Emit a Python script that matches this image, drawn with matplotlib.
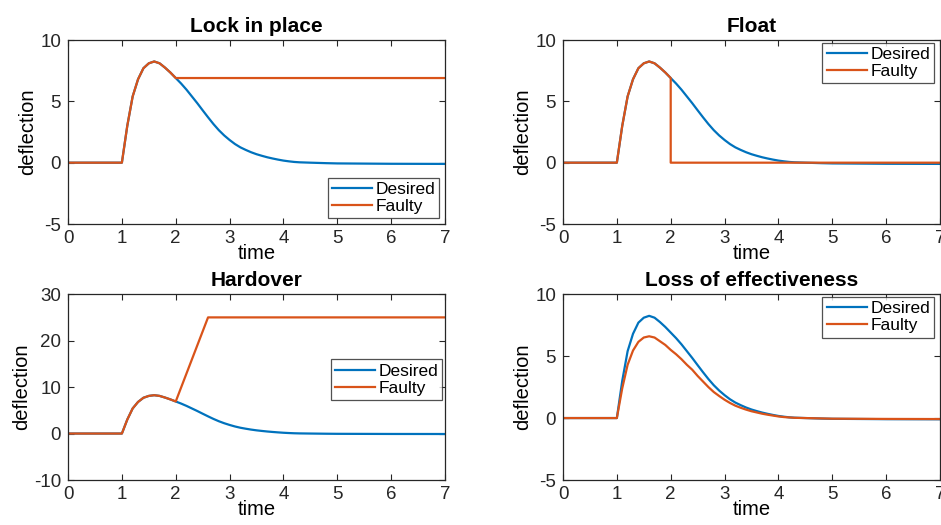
import numpy as np
import matplotlib.pyplot as plt

plt.rcParams['font.family'] = ['Liberation Sans', 'DejaVu Sans']
plt.rcParams['axes.unicode_minus'] = False

# desired actuator deflection
t = [0.0, 1.0, 1.1, 1.2, 1.3, 1.4, 1.5, 1.6, 1.7, 1.8, 1.9, 2.0,
     2.1, 2.2, 2.3, 2.4, 2.5, 2.6, 2.7, 2.8, 2.9, 3.0,
     3.1, 3.2, 3.3, 3.4, 3.5, 3.6, 3.7, 3.8, 3.9, 4.0,
     4.1, 4.2, 4.3, 4.5, 4.8, 5.0, 6.0, 7.0]
desired = [0.0, 0.0, 3.0, 5.4, 6.8, 7.7, 8.1, 8.25, 8.1, 7.75, 7.35, 6.9,
           6.45, 5.95, 5.4, 4.85, 4.27, 3.7, 3.15, 2.65, 2.22, 1.85,
           1.52, 1.25, 1.04, 0.85, 0.69, 0.56, 0.44, 0.34, 0.25, 0.17,
           0.11, 0.06, 0.03, 0.0, -0.04, -0.06, -0.09, -0.1]

# faulty signals
lock_t = [0.0, 1.0, 1.1, 1.2, 1.3, 1.4, 1.5, 1.6, 1.7, 1.8, 1.9, 2.0, 7.0]
lock_y = [0.0, 0.0, 3.0, 5.4, 6.8, 7.7, 8.1, 8.25, 8.1, 7.75, 7.35, 6.9, 6.9]

float_t = [0.0, 1.0, 1.1, 1.2, 1.3, 1.4, 1.5, 1.6, 1.7, 1.8, 1.9, 2.0, 2.0, 7.0]
float_y = [0.0, 0.0, 3.0, 5.4, 6.8, 7.7, 8.1, 8.25, 8.1, 7.75, 7.35, 6.9, 0.0, 0.0]

hard_t = [0.0, 1.0, 1.1, 1.2, 1.3, 1.4, 1.5, 1.6, 1.7, 1.8, 1.9, 2.0, 2.6, 7.0]
hard_y = [0.0, 0.0, 3.0, 5.4, 6.8, 7.7, 8.1, 8.25, 8.1, 7.75, 7.35, 6.9, 25.0, 25.0]

loss_y = [0.0, 0.0, 2.4, 4.3, 5.45, 6.15, 6.5, 6.6, 6.5, 6.2, 5.9, 5.5,
          5.15, 4.75, 4.3, 3.9, 3.4, 2.95, 2.5, 2.1, 1.78, 1.48,
          1.22, 1.0, 0.83, 0.68, 0.55, 0.45, 0.35, 0.27, 0.2, 0.13,
          0.08, 0.05, 0.02, 0.0, -0.03, -0.05, -0.07, -0.08]

blue = '#0072BD'
orange = '#D95319'

panels = [
    ('Lock in place', lock_t, lock_y, (-5, 10), [-5, 0, 5, 10], 'lower right', (0.985, 0.03)),
    ('Float', float_t, float_y, (-5, 10), [-5, 0, 5, 10], 'upper right', (0.985, 0.985)),
    ('Hardover', hard_t, hard_y, (-10, 30), [-10, 0, 10, 20, 30], 'center right', (0.993, 0.54)),
    ('Loss of effectiveness', t, loss_y, (-5, 10), [-5, 0, 5, 10], 'upper right', (0.985, 0.985)),
]

fig = plt.figure(figsize=(9.41, 5.25), dpi=100)
rects = [[0.0723, 0.5733, 0.4006, 0.3505],
         [0.5983, 0.5733, 0.4006, 0.3505],
         [0.0723, 0.0857, 0.4006, 0.354],
         [0.5983, 0.0857, 0.4006, 0.354]]

for rect, (title, ft, fy, ylim, yt, loc, anchor) in zip(rects, panels):
    ax = fig.add_axes(rect)
    ax.plot(t, desired, color=blue, lw=1.6, label='Desired')
    ax.plot(ft, fy, color=orange, lw=1.6, label='Faulty')
    ax.set_xlim(0, 7)
    ax.set_ylim(*ylim)
    ax.set_xticks(range(8))
    ax.set_yticks(yt)
    ax.set_title(title, fontsize=15, fontweight='bold', pad=6)
    ax.set_xlabel('time', fontsize=14.5, labelpad=-2)
    ax.set_ylabel('deflection', fontsize=14.5, labelpad=2)
    ax.tick_params(direction='in', length=4, width=0.8, top=True, right=True,
                   labelsize=13.5, colors='#262626')
    ax.tick_params(axis='y', pad=5)
    ax.tick_params(axis='x', pad=4)
    for s in ax.spines.values():
        s.set_color('#262626')
        s.set_linewidth(0.9)
    leg = ax.legend(loc=loc, bbox_to_anchor=anchor, fontsize=12.5, frameon=True,
                    fancybox=False, handlelength=2.3, handletextpad=0.2,
                    borderpad=0.25, labelspacing=0.1, borderaxespad=0.0)
    leg.get_frame().set_edgecolor('#262626')
    leg.get_frame().set_linewidth(0.9)

fig.savefig('out.png', dpi=100)
